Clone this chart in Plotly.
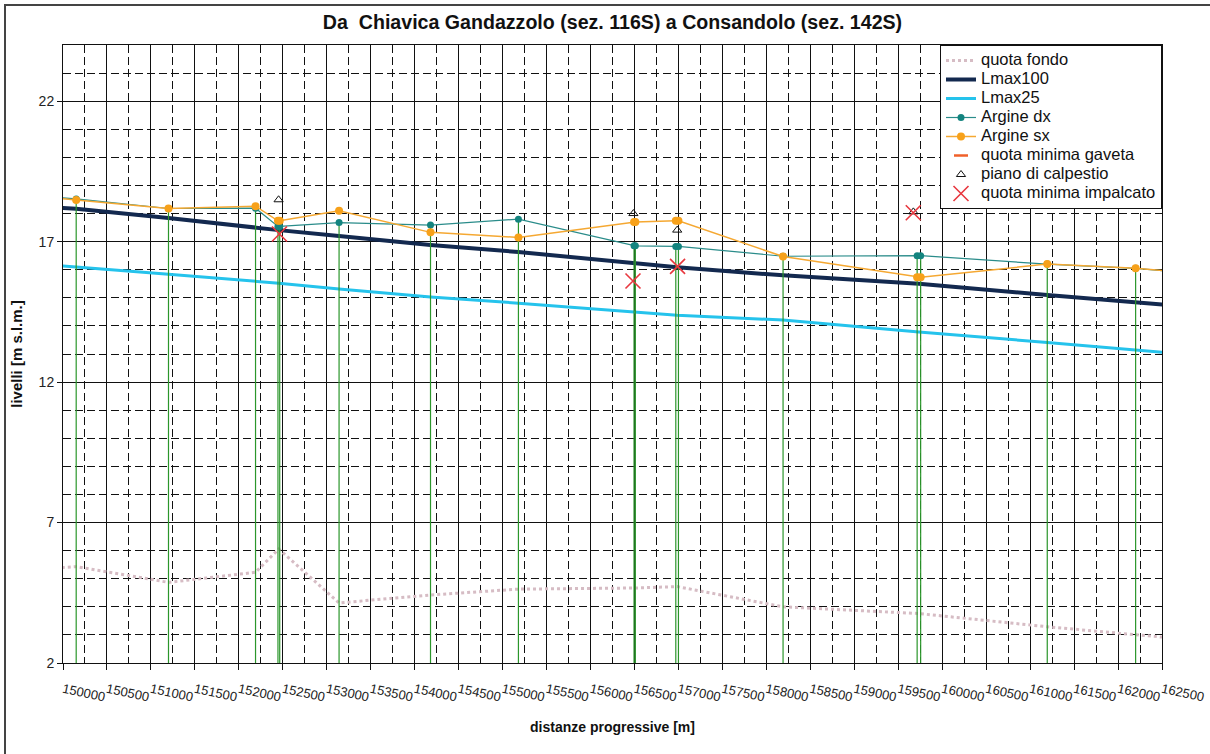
import plotly.graph_objects as go

# ---------------- DATA ----------------
# Sections (progressive distance, m) - first/last are points beyond the axis range
sez_x = [149850, 150150, 151200, 152190, 152445, 152465, 153140, 154180, 155180,
         156495, 156510, 156970, 157000, 158190, 159715, 159755, 161195, 162200, 162650]
argine_dx = [18.60, 18.52, 18.18, 18.19, 17.54, 17.54, 17.68, 17.59, 17.80,
             16.85, 16.85, 16.83, 16.83, 16.48, 16.50, 16.50, 16.20, 16.05, 15.93]
argine_sx = [18.58, 18.48, 18.18, 18.26, 17.74, 17.74, 18.10, 17.33, 17.15,
             17.70, 17.70, 17.74, 17.74, 16.47, 15.73, 15.73, 16.20, 16.05, 15.93]
# which sections carry the vertical section line (green)
sez_line = [0, 1, 1, 1, 1, 1, 1, 1, 1, 1, 1, 1, 1, 1, 1, 1, 1, 1, 0]

lmax_x = [149850, 150150, 151200, 152190, 152455, 153140, 154180, 155180,
          156500, 156985, 158190, 159735, 161195, 162200, 162650]
lmax100 = [18.22, 18.17, 17.84, 17.48, 17.41, 17.20, 16.88, 16.63,
           16.22, 16.09, 15.80, 15.50, 15.10, 14.86, 14.72]
lmax25 = [16.16, 16.10, 15.84, 15.59, 15.52, 15.31, 15.03, 14.81,
          14.49, 14.38, 14.21, 13.78, 13.41, 13.16, 13.02]
quota_fondo = [5.37, 5.43, 4.87, 5.23, 6.06, 4.14, 4.42, 4.63,
               4.67, 4.72, 4.00, 3.76, 3.29, 3.00, 2.88]

ponti_x = [152452, 156488, 156986, 159672]
piano_calpestio = [18.49, 18.00, 17.41, 18.06]
impalcato_x = [152462, 156483, 156990, 159671]
quota_impalcato = [17.27, 15.60, 16.12, 18.03]

x_ticks = list(range(150000, 162501, 500))
y_ticks = [2, 7, 12, 17, 22]

FONT = "Liberation Sans, Arial, sans-serif"


def leg(name):
    return '<span style="font-size:16.5px">' + name + '</span>'


fig = go.Figure()

fig.add_trace(go.Scatter(x=lmax_x, y=quota_fondo, mode="lines", name=leg("quota fondo"),
                         line=dict(color="#d6bcc4", width=3, dash="dot")))
fig.add_trace(go.Scatter(x=lmax_x, y=lmax100, mode="lines", name=leg("Lmax100"),
                         line=dict(color="#13294f", width=4)))
fig.add_trace(go.Scatter(x=lmax_x, y=lmax25, mode="lines", name=leg("Lmax25"),
                         line=dict(color="#25c3ec", width=3)))
fig.add_trace(go.Scatter(
    x=sez_x, y=argine_dx, mode="lines+markers", name=leg("Argine dx"),
    line=dict(color="#2a8c8a", width=1.2),
    marker=dict(color="#13847f", size=7),
    error_y=dict(type="data", symmetric=False,
                 array=[0] * len(sez_x),
                 arrayminus=[(v - 1.5) * s for v, s in zip(argine_dx, sez_line)],
                 color="#2b962b", thickness=1.2, width=0)))
fig.add_trace(go.Scatter(x=sez_x, y=argine_sx, mode="lines+markers", name=leg("Argine sx"),
                         line=dict(color="#f5a832", width=1.5),
                         marker=dict(color="#f7a11a", size=8)))
fig.add_trace(go.Scatter(x=[None], y=[None], mode="markers", name=leg("quota minima gaveta"),
                         marker=dict(symbol="line-ew", size=10,
                                     line=dict(color="#f0602a", width=2.5))))
fig.add_trace(go.Scatter(x=ponti_x, y=piano_calpestio, mode="markers",
                         name=leg("piano di calpestio"),
                         marker=dict(symbol="triangle-up-open", size=8, color="#111",
                                     line=dict(color="#111", width=1))))
fig.add_trace(go.Scatter(x=impalcato_x, y=quota_impalcato, mode="markers",
                         name=leg("quota minima impalcato"),
                         marker=dict(symbol="x-thin", size=15,
                                     line=dict(color="#e8383f", width=1.6))))

fig.update_layout(
    width=1210, height=754,
    margin=dict(l=63, r=48, t=45, b=91, autoexpand=False),
    paper_bgcolor="white", plot_bgcolor="white",
    font=dict(family=FONT, color="#111"),
    title=dict(text="<b>Da\u00a0 Chiavica Gandazzolo (sez. 116S) a Consandolo (sez. 142S)</b>",
               x=0.5, xref="paper", y=1 - 22 / 754, yref="container", yanchor="middle",
               font=dict(size=19.6, family=FONT, color="#111")),
    legend=dict(x=1, xanchor="right", y=1, yanchor="top", bgcolor="white",
                bordercolor="#111", borderwidth=1, font=dict(size=11, family=FONT, color="#111"),
                tracegroupgap=0),
    showlegend=True,
)

fig.update_xaxes(
    range=[150000, 162500], tickmode="array", tickvals=x_ticks,
    ticktext=[str(v) for v in x_ticks], tickangle=12, automargin=False,
    tickfont=dict(size=13, family=FONT, color="#222"), ticklabelstandoff=7,
    ticks="outside", ticklen=6, tickcolor="#111",
    showgrid=True, gridcolor="#111", gridwidth=1,
    minor=dict(tick0=150000, dtick=250, showgrid=True, gridcolor="#111",
               griddash="8px,4px", gridwidth=1),
    showline=True, linecolor="#111", linewidth=1, mirror=True, zeroline=False,
    title=dict(text="<b>distanze progressive [m]</b>", font=dict(size=14, family=FONT, color="#111"),
               standoff=18),
)
fig.update_yaxes(
    range=[2, 24], tickmode="array", tickvals=y_ticks, automargin=False,
    tickfont=dict(size=14, family=FONT, color="#222"),
    ticks="outside", ticklen=5, tickcolor="#111",
    showgrid=True, gridcolor="#111", gridwidth=1,
    minor=dict(tick0=2, dtick=1, showgrid=True, gridcolor="#111",
               griddash="8px,4px", gridwidth=1),
    showline=True, linecolor="#111", linewidth=1, mirror=True, zeroline=False,
    title=dict(text="<b>livelli [m s.l.m.]</b>", font=dict(size=15, family=FONT, color="#111"),
               standoff=12),
)

# outer chart frame
fig.add_shape(type="rect", xref="paper", yref="paper",
              x0=(5 - 63) / 1099, x1=(1225 - 63) / 1099,
              y0=-(770 - 663) / 618, y1=1 + (45 - 5) / 618,
              line=dict(color="#444", width=2), fillcolor="rgba(0,0,0,0)", layer="below")

fig.write_html("out.html")
